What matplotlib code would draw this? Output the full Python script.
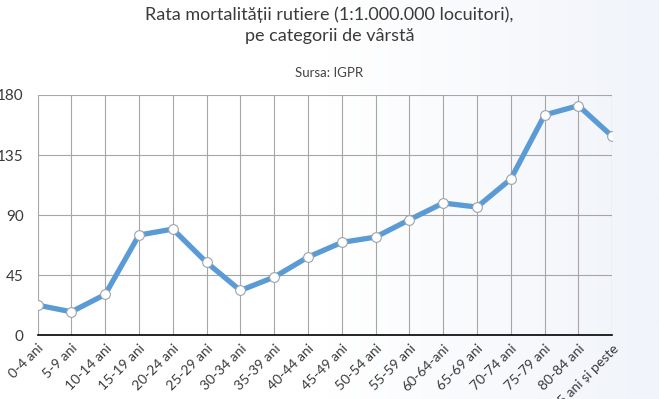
import numpy as np
from matplotlib import pyplot as plt
from matplotlib.colors import LinearSegmentedColormap

# Date: rata mortalitatii rutiere pe categorii de varsta
categorii = ['0-4 ani', '5-9 ani', '10-14 ani', '15-19 ani', '20-24 ani',
             '25-29 ani', '30-34 ani', '35-39 ani', '40-44 ani', '45-49 ani',
             '50-54 ani', '55-59 ani', '60-64-ani', '65-69 ani', '70-74 ani',
             '75-79 ani', '80-84 ani', '85 ani și peste']
rata = [22.5, 17.5, 30.5, 75, 79.5, 54.5, 33.5, 43.5, 58.5, 69.5,
        73.5, 86.5, 99, 96, 117, 165, 172, 149]
y_ticks = [0, 45, 90, 135, 180]

plt.rcParams['font.family'] = ['Lato', 'DejaVu Sans']

fig = plt.figure(figsize=(6.59, 3.99), dpi=100)

# Fundal cu gradient usor albastrui
bg = fig.add_axes([0, 0, 1, 1], zorder=-1)
grad = np.linspace(0, 1, 256).reshape(1, -1)
bg.imshow(grad, aspect='auto', extent=[0, 1, 0, 1],
          cmap=LinearSegmentedColormap.from_list(
              'bg', ['#ffffff', '#ffffff', '#f1f4fa']))
bg.axis('off')

ax = fig.add_axes([0.057, 0.160, 0.872, 0.602])
ax.patch.set_alpha(0)
x = np.arange(len(categorii))
ax.plot(x, rata, color='#5b9bd5', linewidth=3.8, zorder=3,
        marker='o', markersize=7, markerfacecolor='white',
        markeredgecolor='#9aa3ad', markeredgewidth=0.8)

ax.set_xlim(0, len(categorii) - 1)
ax.set_ylim(0, 180)
ax.set_yticks(y_ticks)
ax.set_xticks(x)
ax.set_xticklabels(categorii, rotation=45, ha='right', rotation_mode='anchor',
                   fontsize=10, color='#3a3a3a')
ax.tick_params(axis='y', labelsize=11, colors='#3a3a3a', length=0, pad=10)
ax.tick_params(axis='x', length=0, pad=5)

ax.grid(True, color='#a6a6a6', linewidth=0.8)
ax.set_axisbelow(True)
for side in ['left', 'right', 'top']:
    ax.spines[side].set_visible(False)
ax.spines['bottom'].set_color('black')
ax.spines['bottom'].set_linewidth(1.2)
ax.spines['bottom'].set_zorder(4)

fig.text(0.5, 0.985, 'Rata mortalității rutiere (1:1.000.000 locuitori),\npe categorii de vârstă',
         ha='center', va='top', fontsize=13, color='#3a3a3a', linespacing=1.4)
fig.text(0.5, 0.817, 'Sursa: IGPR', ha='center', va='center',
         fontsize=9.5, color='#444444')

fig.savefig('out.png', dpi=100)
